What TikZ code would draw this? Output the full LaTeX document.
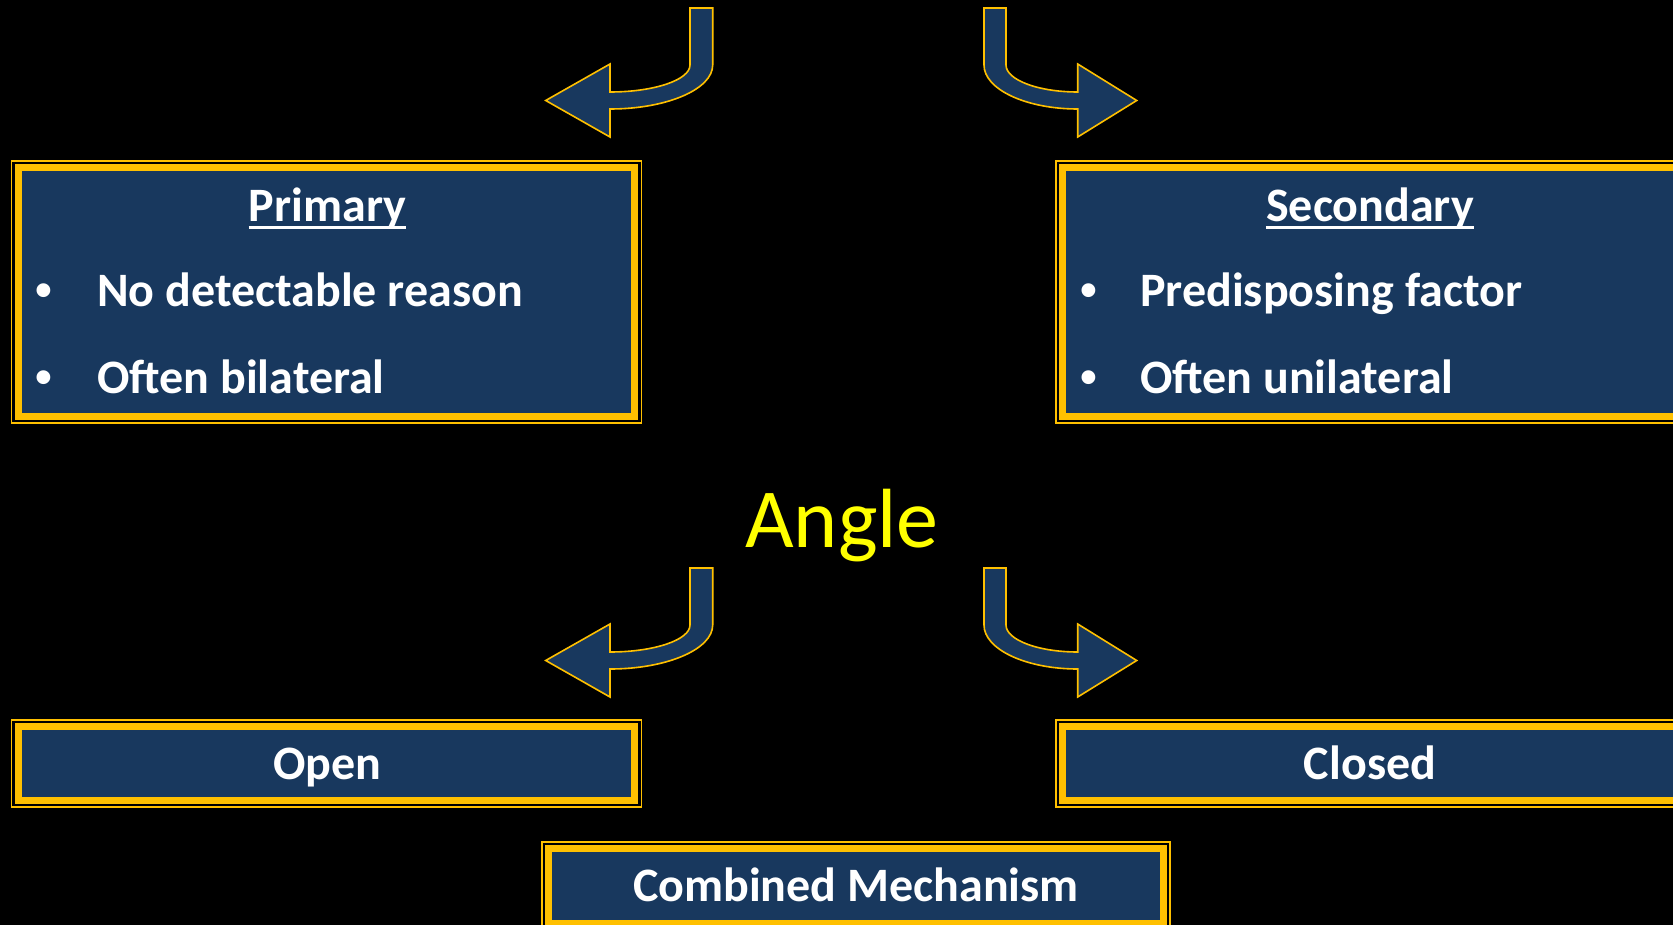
\documentclass[tikz,border=0pt]{standalone}
\usepackage{fontspec}
\setmainfont{Carlito}
\newfontfamily\bulletfont{Liberation Sans}
\definecolor{navy}{RGB}{24,56,94}
\definecolor{gold}{RGB}{255,192,0}
\definecolor{angleyellow}{RGB}{255,255,0}
\tikzset{
  box/.style={draw=gold, line width=7pt, fill=navy, rectangle, inner sep=0pt, outer sep=0pt},
  rim/.style={draw=gold, line width=1.7pt},
  arrowshape/.style={fill=navy, draw=gold, line width=1.6pt, line join=miter},
  txt/.style={font=\bfseries\fontsize{48}{58}\selectfont, text=white, inner sep=0pt, anchor=base},
  txtl/.style={txt, anchor=base west},
  bul/.style={font=\bulletfont\bfseries\fontsize{48}{58}\selectfont, text=white, inner sep=0pt, anchor=base},
  uline/.style={white, line width=2.8pt},
  pics/larrow/.style={code={
    \draw[arrowshape] (690,8) -- (712.7,8) -- (712.7,65)
      .. controls (712.7,89.3) and (666.7,109) .. (610,109)
      -- (610,137) -- (545.7,100.5) -- (610,64) -- (610,92)
      .. controls (654.2,92) and (690,79.9) .. (690,65) -- cycle;
  }},
  pics/rarrow/.style={code={
    \draw[arrowshape] (984,8) -- (1006,8) -- (1006,65)
      .. controls (1006,79.9) and (1038.1,92) .. (1077.7,92)
      -- (1077.7,64) -- (1136.7,100.5) -- (1077.7,137) -- (1077.7,109)
      .. controls (1026,109) and (984,89.3) .. (984,65) -- cycle;
  }}
}
\begin{document}
\begin{tikzpicture}[x=1pt, y=-1pt]
\fill[black] (0,0) rectangle (1673,925);
\useasboundingbox (0,0) rectangle (1673,925);
\clip (0,0) rectangle (1673,925);

% arrows
\pic at (0,0) {larrow};
\pic at (0,0) {rarrow};
\pic at (0,560) {larrow};
\pic at (0,560) {rarrow};

% boxes
\node[box, minimum width=616.6pt, minimum height=248.6pt] (prim) at (326.5,291.8) {};
\node[box, minimum width=616.6pt, minimum height=248.6pt] (sec) at (1370.8,291.8) {};
\node[box, minimum width=616.6pt, minimum height=74pt] (open) at (326.5,763.5) {};
\node[box, minimum width=616.6pt, minimum height=74pt] (closed) at (1370.8,763.5) {};
\node[box, minimum width=615pt, minimum height=75pt] (comb) at (856,886) {};
\foreach \b in {prim,sec,open,closed,comb}{
  \draw[rim] ([shift={(-6.65pt,6.65pt)}]\b.north west) rectangle ([shift={(6.65pt,-6.65pt)}]\b.south east);
}

% primary text
\node[txt] (tprim) at (327.5,222) {Primary};
\draw[uline] ([yshift=-5.5pt]tprim.base west) -- ([yshift=-5.5pt]tprim.base east);
\node[bul] (bp1) at (44.3,307) {•};
\node[txtl] (tp1) at (97,307) {No detectable reason};
\node[bul] (bp2) at (44.3,393) {•};
\node[txtl] (tp2) at (97,393) {Often bilateral};

% secondary text
\node[txt] (tsec) at (1370,222) {Secondary};
\draw[uline] ([yshift=-5.5pt]tsec.base west) -- ([yshift=-5.5pt]tsec.base east);
\node[bul] (bs1) at (1088.5,307) {•};
\node[txtl] (ts1) at (1140,307) {Predisposing factor};
\node[bul] (bs2) at (1088.5,393) {•};
\node[txtl] (ts2) at (1140,393) {Often unilateral};

% angle
\node[font=\fontsize{84}{100}\selectfont, text=angleyellow, inner sep=0pt, anchor=base] (angle) at (842,547) {Angle};

% bottom labels
\node[txt] (topen) at (327.5,779) {Open};
\node[txt] (tclosed) at (1370,779) {Closed};
\node[txt] (tcomb) at (856,901) {Combined Mechanism};
\end{tikzpicture}
\end{document}
